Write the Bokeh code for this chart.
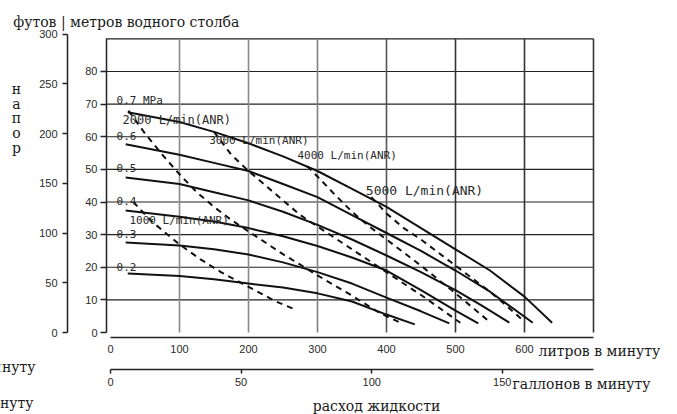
from bokeh.plotting import figure
from bokeh.models import Range1d, LinearAxis, FixedTicker
from bokeh.core.properties import value
from bokeh.embed import file_html
from bokeh.resources import INLINE

# ---------------- data ----------------
# pressure curves: flow (L/min) vs head (m of water)
p02_x = [25, 100, 150, 200, 250, 300, 350, 400, 441]
p02_y = [18.1, 17.3, 16.3, 15.0, 13.8, 12.0, 9.5, 5.5, 2.5]
p03_x = [22, 100, 150, 200, 250, 300, 350, 400, 450, 491]
p03_y = [27.6, 26.7, 25.5, 23.9, 21.5, 18.5, 15.0, 10.7, 6.5, 2.8]
p04_x = [22, 100, 150, 200, 250, 300, 350, 400, 450, 500, 533]
p04_y = [37.4, 35.5, 34.0, 32.0, 29.5, 26.5, 23.0, 19.0, 13.0, 6.7, 2.8]
p05_x = [22, 100, 150, 200, 250, 300, 350, 400, 450, 500, 540, 578]
p05_y = [47.5, 45.5, 43.0, 40.5, 37.0, 33.0, 28.5, 23.6, 18.5, 13.0, 8.0, 3.0]
p06_x = [22, 100, 150, 200, 250, 300, 350, 400, 450, 500, 550, 612]
p06_y = [57.7, 54.5, 52.0, 49.5, 45.5, 41.5, 36.0, 30.5, 25.0, 19.0, 12.5, 3.0]
p07_x = [25, 100, 150, 200, 250, 300, 350, 400, 450, 500, 550, 600, 640]
p07_y = [67.5, 64.5, 61.5, 58.0, 54.0, 49.5, 44.0, 38.5, 32.0, 25.5, 19.0, 11.0, 3.0]

# air consumption curves (dashed)
a1000_x = [33, 60, 100, 130, 160, 200, 240, 268]
a1000_y = [40.0, 34.0, 27.0, 22.5, 18.5, 14.0, 9.5, 7.0]
a2000_x = [26, 50, 75, 100, 125, 150, 175, 200, 225, 250, 275, 300, 350, 390, 420]
a2000_y = [68.0, 61.0, 54.5, 48.5, 43.0, 38.5, 34.5, 31.0, 27.5, 24.0, 20.8, 17.5, 11.3, 6.0, 3.0]
a3000_x = [150, 175, 200, 225, 250, 275, 300, 325, 350, 400, 450, 507]
a3000_y = [61.5, 54.5, 49.5, 45.0, 40.5, 36.0, 32.5, 29.0, 25.5, 18.5, 11.5, 3.0]
a4000_x = [285, 300, 325, 350, 375, 400, 450, 500, 551]
a4000_y = [51.0, 47.8, 42.3, 37.0, 32.5, 28.5, 20.5, 12.0, 3.0]
a5000_x = [378, 400, 425, 450, 475, 500, 525, 550, 575, 599]
a5000_y = [41.5, 36.5, 32.0, 28.5, 24.5, 20.5, 16.5, 12.5, 8.0, 3.5]

pressure_labels = ["0.7 MPa", "0.6", "0.5", "0.4", "0.3", "0.2"]
air_labels = ["1000 L/min(ANR)", "2000 L/min(ANR)", "3000 L/min(ANR)",
              "4000 L/min(ANR)", "5000 L/min(ANR)"]

m_ticks = [0, 10, 20, 30, 40, 50, 60, 70, 80]
ft_ticks = [0, 50, 100, 150, 200, 250, 300]
l_ticks = [0, 100, 200, 300, 400, 500, 600]
gal_ticks = [0, 50, 100, 150]
hgrid = [10, 20, 30, 40, 50, 60, 70, 80, 90]
vgrid = [100, 200, 300, 400, 500, 600, 700]

FT = 0.3048      # m per foot
GAL = 3.78541    # L per US gallon

# ---------------- layout constants ----------------
W, H = 677, 414
X0, X1 = -159.42, 821.74     # L/min across the whole canvas
Y0, Y1 = -25.13, 101.76      # m across the whole canvas
M_AXIS_X = -5.8              # where the metre axis stands (L/min)
FT_AXIS_X = -62.3            # where the foot axis stands (L/min)
L_AXIS_Y = -1.53             # where the litre axis stands (m)
G_AXIS_Y = -11.34            # where the gallon axis stands (m)
XMAX, YMAX = 700, 90

p = figure(width=W, height=H, frame_width=W, frame_height=H,
           x_range=Range1d(X0, X1), y_range=Range1d(Y0, Y1),
           x_axis_location=None, y_axis_location=None,
           output_backend="svg", toolbar_location=None, min_border=0)
p.outline_line_color = None
p.background_fill_color = "white"
p.border_fill_color = "white"
p.xgrid.visible = False
p.ygrid.visible = False

p.extra_y_ranges = {"ft": Range1d(Y0 / FT, Y1 / FT)}
p.extra_x_ranges = {"gal": Range1d(X0 / GAL, X1 / GAL)}

TICK_FONT = "Liberation Sans"
TXT = "#2a2a2a"

def style_axis(ax):
    ax.axis_line_color = "#222222"
    ax.axis_line_width = 1.5
    ax.major_tick_line_color = "#222222"
    ax.major_tick_line_width = 1.5
    ax.minor_tick_line_color = None
    ax.major_tick_in = 0
    ax.major_label_text_font = TICK_FONT
    ax.major_label_text_font_size = "11px"
    ax.major_label_text_color = TXT

ym = LinearAxis(fixed_location=M_AXIS_X)
style_axis(ym)
ym.ticker = FixedTicker(ticks=m_ticks)
ym.bounds = (0, YMAX)
ym.major_tick_out = 6
ym.major_label_standoff = 3
p.add_layout(ym, "left")

yf = LinearAxis(y_range_name="ft", fixed_location=FT_AXIS_X)
style_axis(yf)
yf.ticker = FixedTicker(ticks=ft_ticks)
yf.bounds = (0, 300)
yf.major_tick_out = 5
yf.major_label_standoff = 5
p.add_layout(yf, "left")

xl = LinearAxis(fixed_location=L_AXIS_Y)
style_axis(xl)
xl.ticker = FixedTicker(ticks=l_ticks)
xl.bounds = (0, XMAX)
xl.major_tick_out = 0
xl.major_tick_line_color = None
xl.major_label_standoff = 7
p.add_layout(xl, "below")

xg = LinearAxis(x_range_name="gal", fixed_location=G_AXIS_Y)
style_axis(xg)
xg.ticker = FixedTicker(ticks=gal_ticks)
xg.bounds = (0, XMAX / GAL)
xg.major_tick_out = 4
xg.major_label_standoff = 4
p.add_layout(xg, "below")

# grid lines, bounded to the chart area
p.segment(x0=[M_AXIS_X] * len(hgrid), y0=hgrid, x1=[XMAX] * len(hgrid), y1=hgrid,
          line_color="#222222", line_width=1.2)
vgrid_colors = ["#8a8a8a", "#8a8a8a", "#808080", "#555555", "#333333", "#333333", "#333333"]
p.segment(x0=vgrid, y0=[0] * len(vgrid), x1=vgrid, y1=[YMAX] * len(vgrid),
          line_color=vgrid_colors, line_width=1.6)

# curves
for xs, ys in [(p02_x, p02_y), (p03_x, p03_y), (p04_x, p04_y),
               (p05_x, p05_y), (p06_x, p06_y), (p07_x, p07_y)]:
    p.line(xs, ys, line_color="#111111", line_width=2)
for xs, ys in [(a1000_x, a1000_y), (a2000_x, a2000_y), (a3000_x, a3000_y),
               (a4000_x, a4000_y), (a5000_x, a5000_y)]:
    p.line(xs, ys, line_color="#111111", line_width=2, line_dash="6 5")

MONO = value("DejaVu Sans Mono")
pl_x = [8.7, 8.7, 8.7, 8.7, 8.7, 8.7]
pl_y = [71.2, 60.1, 50.3, 40.2, 30.1, 20.2]
for t, x, y in zip(pressure_labels, pl_x, pl_y):
    p.text(x=[x], y=[y], text=[t], text_font=MONO, text_font_size="11px",
           text_baseline="middle", text_align="left", text_color=TXT)
al_x = [27.5, 17.4, 143, 271, 370]
al_y = [34.4, 65.0, 58.9, 54.3, 43.6]
al_s = ["11px", "12px", "11px", "11px", "13px"]
for t, x, y, s in zip(air_labels, al_x, al_y, al_s):
    p.text(x=[x], y=[y], text=[t], text_font=MONO, text_font_size=s,
           text_baseline="middle", text_align="left", text_color=TXT)

SERIF = value("DejaVu Serif")
def lab(text, x, y, align="left", baseline="alphabetic", size="14px", **kw):
    p.text(x=[x], y=[y], text=[text], text_font=SERIF, text_font_size=size,
           text_align=align, text_baseline=baseline, text_color="#1a1a1a", **kw)

lab("футов | метров водного столба", -141.0, 95.3)
lab("н\nа\nп\nо\nр", -136.2, 65.6, align="center", baseline="middle", text_line_height=0.93)
lab("литров в минуту", 620.3, -5.6)
lab("галлонов в минуту", 582.6, -15.9)
lab("расход жидкости", 385.5, -22.4, align="center")
lab("литров в минуту", -108.7, -10.7, align="right")
lab("галлонов в минуту", -111.6, -21.5, align="right")

open("out.html", "w").write(file_html(p, INLINE))
